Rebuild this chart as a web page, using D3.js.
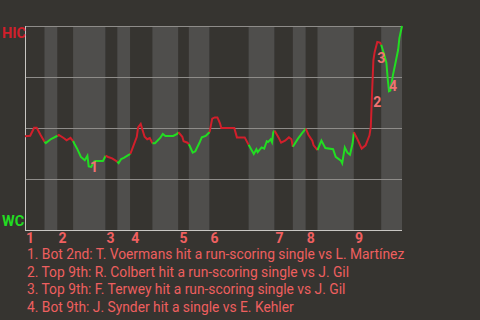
<!DOCTYPE html>
<html>
<head>
<meta charset="utf-8">
<script src="https://cdnjs.cloudflare.com/ajax/libs/d3/7.8.5/d3.min.js"></script>
<style>
  body { margin: 0; background: #363430; }
  svg { display: block; }
</style>
</head>
<body>
<script>
// teams (away bats in the top half)
var awayTeam = 'HIC';
var homeTeam = 'WC';

// inning labels and the pitch where each half inning starts
var innings = ['1', '2', '3', '4', '5', '6', '7', '8', '9'];
var halfStarts = [0, 15, 25, 37, 62, 71, 81, 98, 118, 126, 142, 172, 192, 206, 216, 225, 253, 274];
var gameEnd = 290;

// HIC win probability (%) by pitch
var winProb = [
  [0, 46], [4, 46.2], [7, 50.1], [9, 50.1], [12, 46.6], [15, 43.3],
  [16, 42.6], [20, 44.6], [25, 46.2],
  [26, 46.6], [30, 45], [32, 44], [35, 45.2], [37, 43.6],
  [38, 42.3], [40, 40], [43, 35.8], [46, 34.2], [48, 36.4], [49, 31.2], [51, 30.9], [53, 33.5], [54, 33.8], [60, 33.8], [62, 36.4],
  [64, 35.8], [67, 35.1], [71, 33.5],
  [72, 32.8], [74, 34.8], [76, 35.4], [81, 37.3],
  [82, 38.9], [86, 45.7], [87, 50.3], [89, 52], [92, 45.7], [94, 44.5], [96, 45.1], [98, 42.5],
  [100, 42.5], [104, 45.1], [106, 47.1], [108, 46.1], [114, 46.1], [117, 47.1], [118, 48],
  [121, 45.7], [122, 43.5], [125, 42.8], [126, 42],
  [127, 40.8], [129, 37.9], [131, 38.6], [134, 42.5], [136, 45.4], [139, 46.1], [142, 48],
  [144, 54.6], [146, 55.2], [148, 55.2], [150, 52.3], [151, 50], [161, 50], [163, 45.4], [169, 45.4], [172, 41.8],
  [176, 37.3], [178, 39.6], [179, 38.2], [182, 40.5], [184, 39.9], [186, 43.5], [187, 43.1], [189, 44.5], [190, 43.1], [191, 48], [192, 48.7],
  [195, 45.4], [197, 42.8], [200, 43.8], [203, 45.4], [205, 44.5], [206, 40.8],
  [210, 44.8], [213, 47.4], [216, 49.7],
  [218, 46.7], [221, 43.8], [222, 41.5], [225, 39.2],
  [228, 43.8], [231, 40.2], [237, 39.6], [239, 35.9], [243, 34], [244, 32.7], [246, 40.5], [248, 37.9], [250, 36.9], [252, 42.5], [253, 48],
  [256, 44.1], [259, 39.9], [262, 41.5], [265, 46.4], [266, 50.6], [267, 67.6], [268, 83.3], [269, 87.3], [271, 92.2], [273, 91.9], [274, 90.8],
  [276, 86.6], [278, 82], [279, 74.2], [280, 68], [281, 68.3], [283, 75.8], [285, 82], [287, 88.2], [288, 94.1], [290, 100]
];

var gridTicks = [0, 25, 50, 75, 100];

// key plays and where their numbers sit
var notes = [
  '1. Bot 2nd: T. Voermans hit a run-scoring single vs L. Martínez',
  '2. Top 9th: R. Colbert hit a run-scoring single vs J. Gil',
  '3. Top 9th: F. Terwey hit a run-scoring single vs J. Gil',
  '4. Bot 9th: J. Synder hit a single vs E. Kehler'
];
var noteSpots = [[53, 28.2], [271, 60.4], [274, 81.7], [283, 68.3]];

var svgWidth = 480;
var svgHeight = 320;
var plotLeft = 25, plotRight = 402, plotTop = 26, plotBottom = 230;

var svg = d3.select('body').append('svg').attr('width', svgWidth).attr('height', svgHeight);

var x = d3.scaleLinear().domain([0, gameEnd]).range([plotLeft, plotRight]);
var y = d3.scaleLinear().domain([0, 100]).range([plotBottom, plotTop]);

// half inning bands, top halves dark, bottom halves light
var halfEnds = halfStarts.slice(1).concat([gameEnd]);
svg.selectAll('rect.band')
   .data(halfStarts)
   .enter()
   .append('rect')
   .attr('class', 'band')
   .attr('x', function (d) { return x(d); })
   .attr('y', plotTop)
   .attr('width', function (d, i) { return x(halfEnds[i]) - x(d); })
   .attr('height', plotBottom - plotTop)
   .attr('fill', function (d, i) { return i % 2 ? '#4f4e4c' : '#363430'; });

// grid lines
svg.selectAll('line.grid')
   .data(gridTicks)
   .enter()
   .append('line')
   .attr('x1', plotLeft)
   .attr('x2', plotRight)
   .attr('y1', function (d) { return Math.round(y(d)) + 0.5; })
   .attr('y2', function (d) { return Math.round(y(d)) + 0.5; })
   .attr('stroke', function (d) { return d === 0 ? '#c8c6c2' : '#8e8c89'; })
   .attr('stroke-width', 1);

svg.append('line')
   .attr('x1', plotLeft + 0.5).attr('x2', plotLeft + 0.5)
   .attr('y1', plotTop).attr('y2', plotBottom + 1)
   .attr('stroke', '#c8c6c2');

// win probability line, one piece per half inning
var line = d3.line()
   .x(function (d) { return x(d[0]); })
   .y(function (d) { return y(d[1]); });

svg.selectAll('path.wp')
   .data(halfStarts)
   .enter()
   .append('path')
   .attr('d', function (d, i) {
      return line(winProb.filter(function (p) { return p[0] >= d && p[0] <= halfEnds[i]; }));
   })
   .attr('fill', 'none')
   .attr('stroke', function (d, i) { return i % 2 ? '#22dd22' : '#d21f2b'; })
   .attr('stroke-width', 2);

// team labels
svg.append('text')
   .attr('x', 2).attr('y', y(100) + 12)
   .attr('font-family', 'Roboto').attr('font-weight', 'bold').attr('font-size', 14.5)
   .attr('fill', '#d21f2b')
   .text(awayTeam);
svg.append('text')
   .attr('x', 2).attr('y', y(0) - 4)
   .attr('font-family', 'Roboto').attr('font-weight', 'bold').attr('font-size', 14.5)
   .attr('fill', '#22dd22')
   .text(homeTeam);

// inning numbers
svg.selectAll('text.inning')
   .data(innings)
   .enter()
   .append('text')
   .attr('x', function (d, i) { return x(halfStarts[i * 2]) + 1; })
   .attr('y', plotBottom + 13)
   .attr('font-family', 'Roboto').attr('font-weight', 'bold').attr('font-size', 14)
   .attr('fill', '#f06060')
   .text(function (d) { return d; });

// play numbers on the line
svg.selectAll('text.spot')
   .data(noteSpots)
   .enter()
   .append('text')
   .attr('x', function (d) { return x(d[0]); })
   .attr('y', function (d) { return y(d[1]); })
   .attr('text-anchor', 'middle')
   .attr('font-family', 'Roboto').attr('font-weight', 'bold').attr('font-size', 14)
   .attr('fill', '#f07272')
   .text(function (d, i) { return i + 1; });

// play descriptions
svg.selectAll('text.note')
   .data(notes)
   .enter()
   .append('text')
   .attr('x', 27)
   .attr('y', function (d, i) { return 259 + i * 17.7; })
   .attr('font-family', 'Roboto').attr('font-size', 13.8)
   .attr('fill', '#ee5f5f')
   .text(function (d) { return d; });
</script>
</body>
</html>
